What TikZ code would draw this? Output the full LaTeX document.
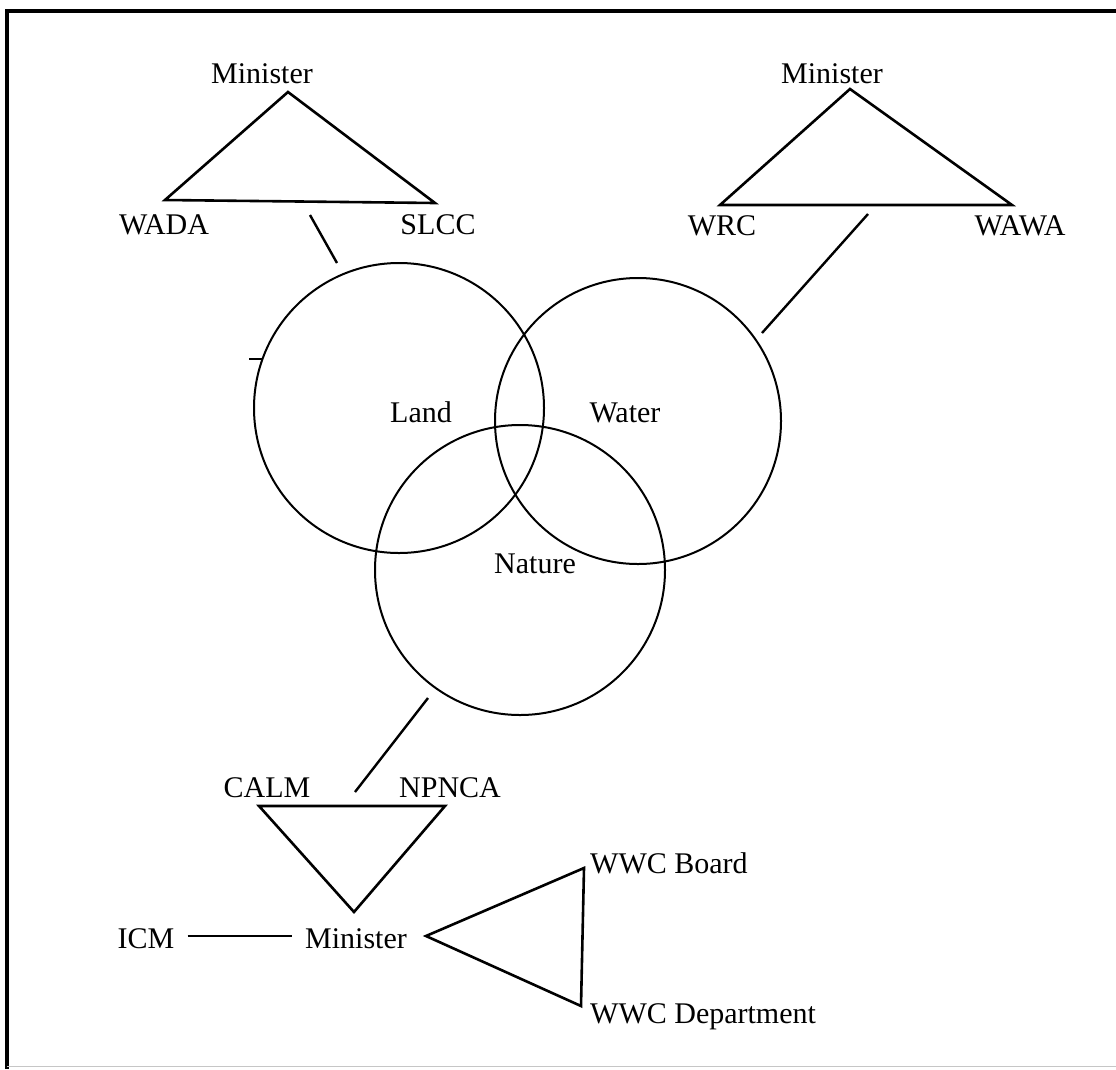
\documentclass[tikz,border=0pt]{standalone}
\usepackage{fontspec}
\setmainfont{Liberation Serif}
\begin{document}
\begin{tikzpicture}[x=1pt,y=-1pt,
  lbl/.style={font=\fontsize{30}{32}\selectfont, inner sep=0pt, anchor=base},
  lblw/.style={lbl, anchor=base west},
  ring/.style={circle, draw, line width=2pt, inner sep=0pt, minimum size=#1},
  tri/.style={line width=2.6pt, line join=miter},
  conn/.style={line width=2.4pt},
  frame/.style={line width=3.2pt}]
\useasboundingbox (0,0) rectangle (1116,1069);
\fill[white] (0,0) rectangle (1116,1069);
% frame
\draw[frame] (7,1069) -- (7,11) -- (1116,11);
\draw[line width=1pt, gray!45] (7,1066) -- (1116,1066);

% circles
\node[ring=290pt] (land) at (399,408) {};
\node[ring=286pt] (water) at (638,421) {};
\node[ring=290pt] (nature) at (520,570) {};
\node[lbl] (landl) at (421,422) {Land};
\node[lbl] (waterl) at (625,422) {Water};
\node[lbl] (naturel) at (535,573) {Nature};

% top-left triangle
\node[lbl] (min1) at (262,83) {Minister};
\node[lbl] (wada) at (164,234) {WADA};
\node[lbl] (slcc) at (438,234) {SLCC};
\coordinate (t1a) at (288,92);
\coordinate (t1b) at (165,200);
\coordinate (t1c) at (435,203);
\draw[tri] (t1a) -- (t1b) -- (t1c) -- cycle;
\coordinate (c1a) at (310,215);
\coordinate (c1b) at (337,263);
\draw[conn] (c1a) -- (c1b);
\coordinate (k1) at (249,359);
\coordinate (k2) at (262,359);
\draw[conn] (k1) -- (k2);

% top-right triangle
\node[lbl] (min2) at (832,83) {Minister};
\node[lbl] (wrc) at (722,235) {WRC};
\node[lbl] (wawa) at (1020,235) {WAWA};
\coordinate (t2a) at (850,89);
\coordinate (t2b) at (720,205);
\coordinate (t2c) at (1012,205);
\draw[tri] (t2a) -- (t2b) -- (t2c) -- cycle;
\coordinate (c2a) at (868,214);
\coordinate (c2b) at (762,333);
\draw[conn] (c2a) -- (c2b);

% bottom
\coordinate (c3a) at (428,698);
\coordinate (c3b) at (355,792);
\draw[conn] (c3a) -- (c3b);
\node[lbl] (calm) at (267,797) {CALM};
\node[lbl] (npnca) at (450,797) {NPNCA};
\coordinate (t3a) at (259,806);
\coordinate (t3b) at (445,806);
\coordinate (t3c) at (354,912);
\draw[tri] (t3a) -- (t3b) -- (t3c) -- cycle;

\node[lbl] (icm) at (146,948) {ICM};
\node[lbl] (min3) at (356,948) {Minister};
\draw[conn, shorten <=13pt, shorten >=13pt] (icm.east |- 0,936) -- (min3.west |- 0,936);

\coordinate (t4a) at (426,936);
\coordinate (t4b) at (584,868);
\coordinate (t4c) at (581,1006);
\draw[tri] (t4a) -- (t4b) -- (t4c) -- cycle;
\node[lblw] (wwcb) at (590,873) {WWC Board};
\node[lblw] (wwcd) at (590,1023) {WWC Department};
\end{tikzpicture}
\end{document}
